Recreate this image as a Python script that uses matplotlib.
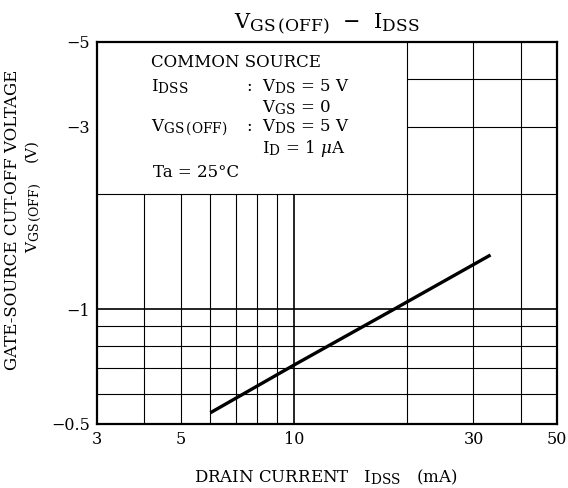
# -*- coding: utf-8 -*-
"""
VGS(OFF) - IDSS 特性曲线（双对数坐标，数据手册风格）
"""
import numpy as np
import matplotlib
matplotlib.use('Agg')
import matplotlib.pyplot as plt
import matplotlib._mathtext as mt
from matplotlib.ticker import FixedLocator, FixedFormatter, NullLocator

plt.rcParams['font.family'] = ['DejaVu Serif']
plt.rcParams['mathtext.fontset'] = 'dejavuserif'
mt.SHRINK_FACTOR = 0.82   # 下标字号接近原图（原图下标几乎与正文等大）

# ---------------- 数据 ----------------
idss_ma = [6.0, 10.0, 18.5, 33.3]
vgs_off = [-0.535, -0.713, -1.0, -1.385]

x_ticks = [3, 5, 10, 30, 50]
x_tick_labels = ['3', '5', '10', '30', '50']
y_ticks = [0.5, 1, 3, 5]
y_tick_labels = ['−0.5', '−1', '−3', '−5']

grid_x_low = [4, 5, 6, 7, 8, 9]         # 只画到 V=2（上方是说明框）
grid_x_full = [20, 30, 40]
grid_y_low = [0.6, 0.7, 0.8, 0.9, 2]
grid_y_right = [3, 4]                   # 只画在 20 mA 右侧

W, H = 568, 488


def px(x, y):
    """像素坐标（左上角为原点）-> figure 坐标"""
    return x / W, 1 - y / H


fig = plt.figure(figsize=(W / 100, H / 100), dpi=100)
ax = fig.add_axes([97 / W, 1 - 424 / H, 460 / W, 382 / H])
ax.set_xscale('log')
ax.set_yscale('log')
ax.set_xlim(3, 50)
ax.set_ylim(0.5, 5)

# 网格
gkw = dict(color='black', linewidth=0.8, zorder=1)
ax.vlines(grid_x_low, 0.5, 2, **gkw)
ax.vlines([10], 0.5, 2, color='black', linewidth=1.2, zorder=1)
ax.vlines(grid_x_full, 0.5, 5, **gkw)
ax.hlines(grid_y_low, 3, 50, **gkw)
ax.hlines([1], 3, 50, color='black', linewidth=1.2, zorder=1)
ax.hlines(grid_y_right, 20, 50, **gkw)

# 曲线
ax.plot(idss_ma, np.abs(vgs_off), color='black', linewidth=2.4,
        solid_capstyle='butt', zorder=3)

# 坐标轴
ax.xaxis.set_major_locator(FixedLocator(x_ticks))
ax.xaxis.set_major_formatter(FixedFormatter(x_tick_labels))
ax.xaxis.set_minor_locator(NullLocator())
ax.yaxis.set_major_locator(FixedLocator(y_ticks))
ax.yaxis.set_major_formatter(FixedFormatter(y_tick_labels))
ax.yaxis.set_minor_locator(NullLocator())
ax.tick_params(length=0, labelsize=11.5)
ax.tick_params(axis='x', pad=5)
ax.tick_params(axis='y', pad=5)
for s in ax.spines.values():
    s.set_linewidth(1.6)

# 标题
fig.text(*px(327, 28), r'$\mathrm{V_{GS\,(OFF)}}$  −  $\mathrm{I_{DSS}}$',
         ha='center', va='baseline', fontsize=15)

# 坐标轴标题
fig.text(*px(13, 220), 'GATE-SOURCE CUT-OFF VOLTAGE', rotation=90,
         ha='center', va='center', fontsize=12)
fig.text(*px(34, 197), r'$\mathrm{V_{GS\,(OFF)}}$    (V)', rotation=90,
         ha='center', va='center', fontsize=11)
fig.text(*px(326, 482), r'DRAIN CURRENT   $\mathrm{I_{DSS}}$   (mA)',
         ha='center', va='baseline', fontsize=12)

# 测试条件说明
fs = 12
fig.text(*px(151, 67), 'COMMON SOURCE', fontsize=fs, va='baseline')
fig.text(*px(151, 91), r'$\mathrm{I_{DSS}}$', fontsize=fs, va='baseline')
fig.text(*px(246, 91), r':  $\mathrm{V_{DS}}$ = 5 V', fontsize=fs, va='baseline')
fig.text(*px(262, 112), r'$\mathrm{V_{GS}}$ = 0', fontsize=fs, va='baseline')
fig.text(*px(151, 131), r'$\mathrm{V_{GS\,(OFF)}}$', fontsize=fs, va='baseline')
fig.text(*px(246, 131), r':  $\mathrm{V_{DS}}$ = 5 V', fontsize=fs, va='baseline')
fig.text(*px(262, 153), r'$\mathrm{I_{D}}$ = 1 $\mu$A', fontsize=fs, va='baseline')
fig.text(*px(153, 177), 'Ta = 25°C', fontsize=fs, va='baseline')

fig.savefig('out.png', dpi=100, facecolor='white')
